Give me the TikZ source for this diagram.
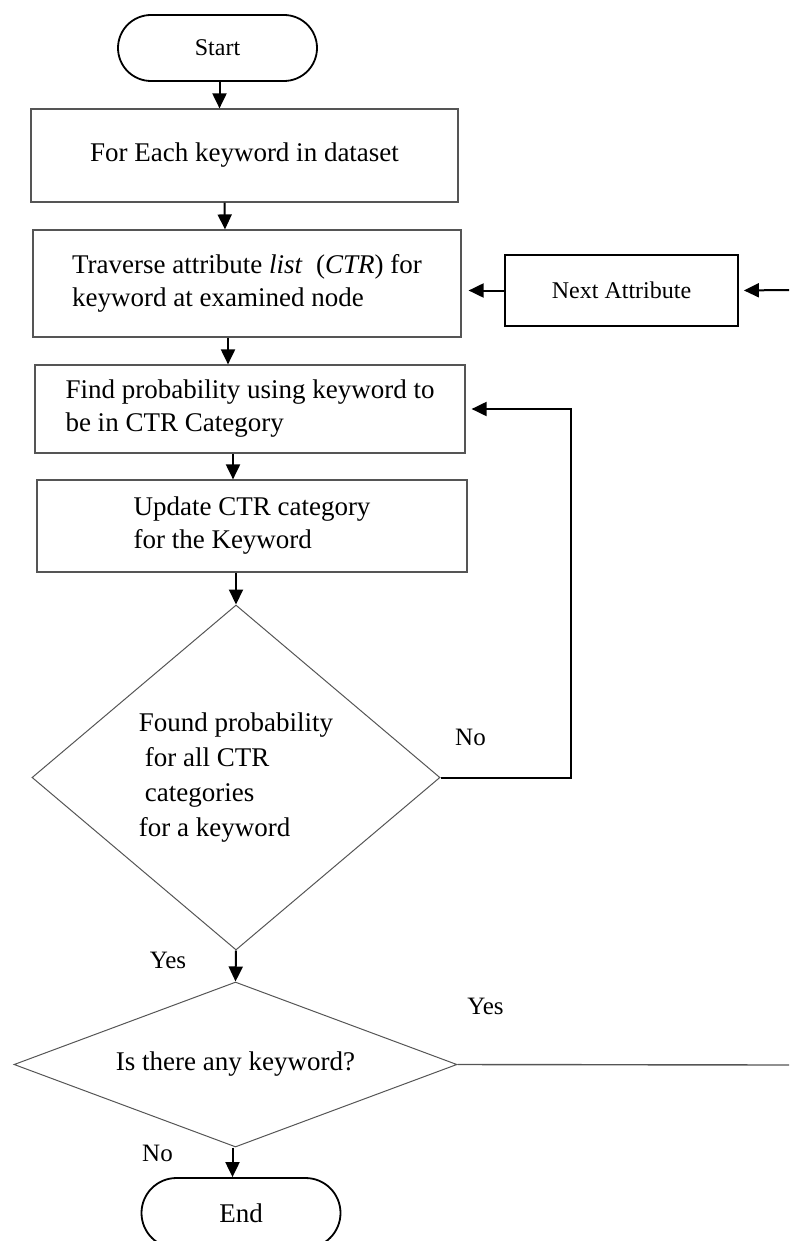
\documentclass[tikz,border=0pt]{standalone}
\usepackage{fontspec}
\setmainfont{Liberation Serif}
\usetikzlibrary{arrows.meta,positioning,shapes.geometric,calc}
\definecolor{edgegray}{HTML}{555555}

\begin{document}
\begin{tikzpicture}[
    x=1pt,y=-1pt,
    term/.style={draw=black,line width=1.8pt,rounded corners=33pt,minimum width=199pt,minimum height=66pt,inner sep=0pt,font=\fontsize{24}{29}\selectfont},
    box/.style={draw=edgegray,line width=1.2pt,inner sep=0pt,align=left,font=\fontsize{27}{33}\selectfont},
    dec/.style={draw=edgegray,line width=1pt,diamond,inner sep=0pt,align=left,font=\fontsize{27}{35}\selectfont},
    lbl/.style={font=\fontsize{25}{30}\selectfont},
    arr/.style={-{Triangle[length=15pt,width=14pt]},line width=2pt},
    link/.style={draw=edgegray,line width=1.4pt}
]
    \useasboundingbox (0,0) rectangle (789,1241);

    \node[term] (start) at (217.5,48) {Start};
    \node[box,minimum width=427pt,minimum height=93pt,align=center] (foreach) at (244.5,155.5) {For Each keyword in dataset};
    \node[box,minimum width=428pt,minimum height=107pt] (traverse) at (247,283.5) {Traverse attribute \textit{list}\ \ (\textit{CTR}) for\\keyword at examined node};
    \node[box,draw=black,line width=1.8pt,minimum width=233pt,minimum height=71pt,font=\fontsize{24}{29}\selectfont] (nextattr) at (621.5,290.5) {Next Attribute};
    \node[box,minimum width=430pt,minimum height=88pt] (findprob) at (250,409) {Find probability using keyword to\\be in CTR Category};
    \node[box,minimum width=430pt,minimum height=92pt] (update) at (252,526) {Update CTR category\\for the Keyword};
    \node[dec,aspect=1.18,minimum width=408pt,minimum height=345pt] (check) at (236,777.5) {Found probability\\\hspace*{6pt}for all CTR\\\hspace*{6pt}categories\\for a keyword};
    \node[dec,aspect=2.68,minimum width=443pt,minimum height=165pt,align=center] (more) at (235.5,1064.5) {Is there any keyword?};
    \node[term,minimum height=70pt,rounded corners=35pt,font=\fontsize{27}{32}\selectfont] (end) at (241,1213) {End};

    \coordinate (rightin) at (789,290);
    \coordinate (rightout) at (789,1065);

    % labels
    \node[lbl] (nocheck) at ([xshift=30pt,yshift=40pt]check.east) {No};
    \node[lbl] (yescheck) at ([xshift=-68pt,yshift=-10pt]check.south) {Yes};
    \node[lbl] (yesmore) at ([xshift=28pt,yshift=58pt]more.east) {Yes};
    \node[lbl] (nomore) at ([xshift=-78pt,yshift=-6pt]more.south) {No};

    % main flow
    \draw[arr] ([xshift=2pt]start.south) -- ([xshift=2pt]start.south |- foreach.north);
    \draw[arr] ([xshift=-20pt]foreach.south) -- ([xshift=-22pt]traverse.north);
    \draw[arr] ([xshift=-19pt]traverse.south) -- ([xshift=-22pt]findprob.north);
    \draw[arr] ([xshift=-17pt]findprob.south) -- ([xshift=-19pt]update.north);
    \draw[arr] ([xshift=-16pt]update.south) -- (check.north);
    \draw[arr] (check.south) -- (more.north);
    \draw[arr] ([xshift=-3pt]more.south) -- ([xshift=-3pt]more.south |- end.north);

    % loops
    \draw[arr,shorten >=6pt] (check.east) -- ++(130,0) |- (findprob.east);
    \draw[link] (more.east) -- (rightout);
    \draw[arr,shorten >=5pt] (rightin) -- (nextattr.east);
    \draw[arr,shorten >=7pt] (nextattr.west) -- (nextattr.west -| traverse.east);
\end{tikzpicture}
\end{document}
